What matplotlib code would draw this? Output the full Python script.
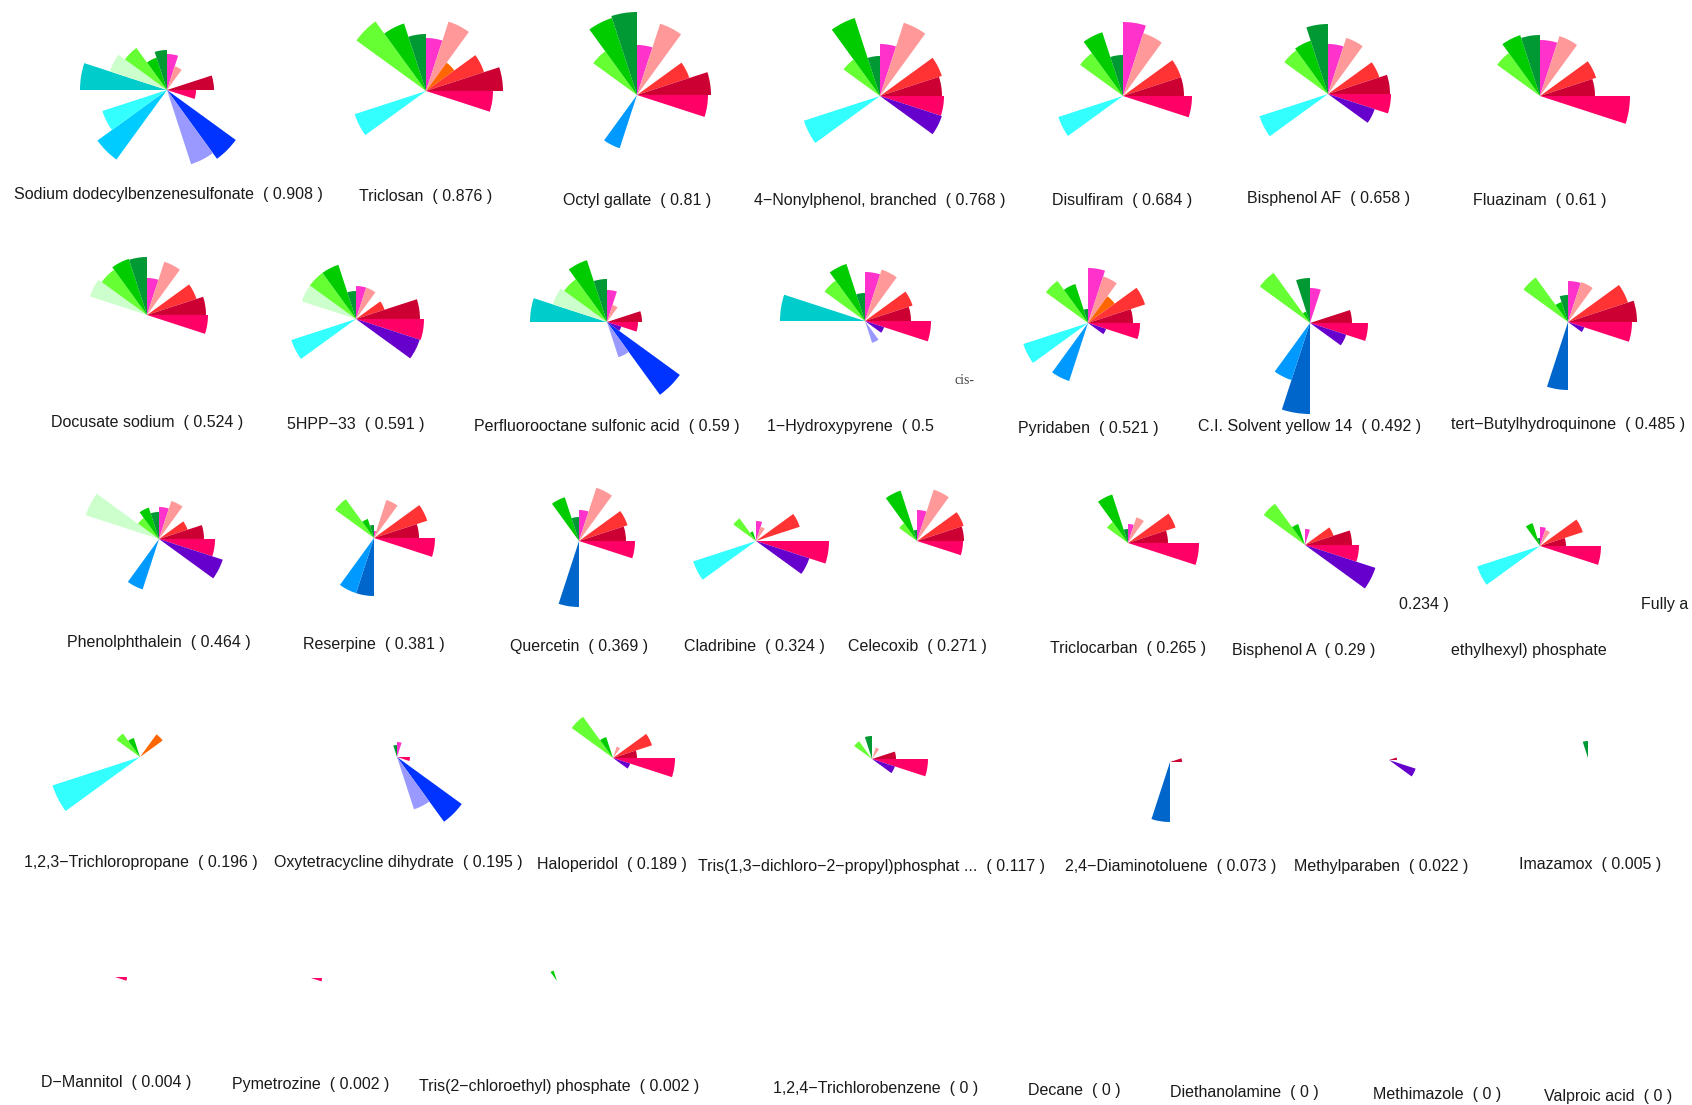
import numpy as np
import matplotlib.pyplot as plt

W, H = 1692, 1105
R = 100  # pixel radius of a slice with value 1

# 20 slices of 18 degrees, clockwise from 12 o'clock
slice_colors = [
    "#FF33CC", "#FF9999", "#FF6600", "#FF3333", "#CC0033",
    "#FF0066", "#6600CC", "#0033FF", "#9999FF", "#3366FF",
    "#0066CC", "#0099FF", "#00CCFF", "#33FFFF", "#00FFCC",
    "#00CCCC", "#CCFFCC", "#66FF33", "#00CC00", "#009933",
]

labels = [
    "Sodium dodecylbenzenesulfonate  ( 0.908 )", "Triclosan  ( 0.876 )",
    "Octyl gallate  ( 0.81 )", "4−Nonylphenol, branched  ( 0.768 )",
    "Disulfiram  ( 0.684 )", "Bisphenol AF  ( 0.658 )", "Fluazinam  ( 0.61 )",
    "Docusate sodium  ( 0.524 )", "5HPP−33  ( 0.591 )",
    "Perfluorooctane sulfonic acid  ( 0.59 )", "1−Hydroxypyrene  ( 0.5",
    "Pyridaben  ( 0.521 )", "C.I. Solvent yellow 14  ( 0.492 )",
    "tert−Butylhydroquinone  ( 0.485 )",
    "Phenolphthalein  ( 0.464 )", "Reserpine  ( 0.381 )", "Quercetin  ( 0.369 )",
    "Cladribine  ( 0.324 )", "Celecoxib  ( 0.271 )", "Triclocarban  ( 0.265 )",
    "Bisphenol A  ( 0.29 )", "ethylhexyl) phosphate",
    "1,2,3−Trichloropropane  ( 0.196 )", "Oxytetracycline dihydrate  ( 0.195 )",
    "Haloperidol  ( 0.189 )", "Tris(1,3−dichloro−2−propyl)phosphat ...  ( 0.117 )",
    "2,4−Diaminotoluene  ( 0.073 )", "Methylparaben  ( 0.022 )", "Imazamox  ( 0.005 )",
    "D−Mannitol  ( 0.004 )", "Pymetrozine  ( 0.002 )",
    "Tris(2−chloroethyl) phosphate  ( 0.002 )", "1,2,4−Trichlorobenzene  ( 0 )",
    "Decane  ( 0 )", "Diethanolamine  ( 0 )", "Methimazole  ( 0 )", "Valproic acid  ( 0 )",
]

slice_values = [
    [0.36, 0.25, 0, 0, 0.47, 0.29, 0, 0.85, 0.78, 0, 0, 0, 0.86, 0.68, 0, 0.87, 0.60, 0.52, 0.34, 0.40],
    [0.53, 0.73, 0.35, 0.61, 0.77, 0.67, 0, 0, 0, 0, 0, 0, 0, 0.75, 0, 0, 0, 0.86, 0.71, 0.57],
    [0.50, 0.75, 0, 0.55, 0.74, 0.71, 0, 0, 0, 0, 0, 0.56, 0, 0, 0, 0, 0, 0.54, 0.81, 0.83],
    [0.52, 0.77, 0, 0.65, 0.62, 0.64, 0.65, 0, 0, 0, 0, 0, 0, 0.80, 0, 0, 0, 0.45, 0.82, 0.40],
    [0.74, 0.66, 0, 0.61, 0.61, 0.69, 0, 0, 0, 0, 0, 0, 0, 0.68, 0, 0, 0, 0.53, 0.67, 0.41],
    [0.50, 0.59, 0, 0.54, 0.62, 0.63, 0.49, 0, 0, 0, 0, 0, 0, 0.72, 0, 0, 0, 0.54, 0.56, 0.70],
    [0.56, 0.63, 0, 0.59, 0.55, 0.90, 0, 0, 0, 0, 0, 0, 0, 0, 0, 0, 0, 0.53, 0.64, 0.61],
    [0.37, 0.56, 0, 0.52, 0.59, 0.61, 0, 0, 0, 0, 0, 0, 0, 0, 0, 0, 0.60, 0.56, 0.59, 0.58],
    [0.33, 0.33, 0, 0.30, 0.64, 0.68, 0.67, 0, 0, 0, 0, 0, 0, 0.68, 0, 0, 0.57, 0.57, 0.57, 0.28],
    [0.32, 0.18, 0, 0, 0.35, 0.31, 0.15, 0.90, 0.37, 0, 0, 0, 0, 0, 0, 0.77, 0.57, 0.53, 0.65, 0.43],
    [0.49, 0.54, 0, 0.50, 0.46, 0.66, 0.20, 0, 0.23, 0, 0, 0, 0, 0, 0, 0.85, 0, 0.50, 0.60, 0.28],
    [0.55, 0.49, 0.33, 0.60, 0.45, 0.52, 0.19, 0, 0, 0, 0, 0.61, 0, 0.68, 0, 0, 0, 0.52, 0.41, 0.14],
    [0.35, 0, 0, 0, 0.42, 0.58, 0.38, 0, 0, 0, 0.91, 0.60, 0, 0, 0, 0, 0, 0.62, 0.12, 0.45],
    [0.41, 0.42, 0, 0.63, 0.69, 0.64, 0.17, 0, 0, 0, 0.68, 0, 0, 0, 0, 0, 0, 0.55, 0.21, 0.27],
    [0.32, 0.40, 0, 0.30, 0.45, 0.56, 0.67, 0, 0, 0, 0, 0.53, 0, 0, 0, 0, 0.77, 0.26, 0.33, 0.27],
    [0.07, 0.40, 0, 0.56, 0.45, 0.61, 0, 0, 0, 0, 0.58, 0.58, 0, 0, 0, 0, 0, 0.48, 0.20, 0.13],
    [0.31, 0.56, 0, 0.51, 0.47, 0.56, 0, 0, 0, 0, 0.66, 0, 0, 0, 0, 0, 0, 0, 0.46, 0.24],
    [0.20, 0.15, 0, 0.46, 0, 0.73, 0.56, 0, 0, 0, 0, 0, 0, 0.66, 0, 0, 0, 0.28, 0.10, 0],
    [0.31, 0.54, 0, 0.49, 0.47, 0.46, 0, 0, 0, 0, 0, 0, 0, 0, 0, 0, 0, 0.22, 0.53, 0.11],
    [0.19, 0.27, 0, 0.50, 0.40, 0.71, 0, 0, 0, 0, 0, 0, 0, 0, 0, 0, 0, 0.26, 0.51, 0.14],
    [0.16, 0, 0, 0.30, 0.47, 0.54, 0.74, 0, 0, 0, 0, 0, 0, 0, 0, 0, 0, 0.51, 0.22, 0],
    [0.19, 0.17, 0, 0.45, 0.26, 0.61, 0, 0, 0, 0, 0, 0, 0, 0.66, 0, 0, 0, 0, 0.24, 0.08],
    [0, 0, 0.28, 0, 0, 0, 0, 0, 0, 0, 0, 0, 0, 0.92, 0, 0, 0, 0.29, 0.20, 0],
    [0.15, 0, 0, 0, 0, 0.13, 0, 0.80, 0.55, 0, 0, 0, 0, 0, 0, 0, 0, 0, 0, 0.12],
    [0, 0.12, 0, 0.41, 0.24, 0.62, 0.18, 0, 0, 0, 0, 0, 0, 0, 0, 0, 0, 0.51, 0.22, 0],
    [0, 0.12, 0, 0, 0.24, 0.56, 0.24, 0, 0, 0, 0, 0, 0, 0, 0, 0, 0, 0.22, 0, 0.23],
    [0, 0, 0, 0, 0.12, 0, 0, 0, 0, 0, 0.60, 0, 0, 0, 0, 0, 0, 0, 0, 0],
    [0, 0, 0, 0, 0.08, 0, 0.28, 0, 0, 0, 0, 0, 0, 0, 0, 0, 0, 0, 0, 0],
    [0, 0, 0, 0, 0, 0, 0, 0, 0, 0, 0, 0, 0, 0, 0, 0, 0, 0, 0, 0.17],
    [0, 0, 0, 0, 0, 0.12, 0, 0, 0, 0, 0, 0, 0, 0, 0, 0, 0, 0, 0, 0],
    [0, 0, 0, 0, 0, 0.11, 0, 0, 0, 0, 0, 0, 0, 0, 0, 0, 0, 0, 0, 0],
    [0, 0, 0, 0, 0, 0, 0, 0, 0, 0, 0, 0, 0, 0, 0, 0, 0, 0, 0.11, 0],
    [0] * 20, [0] * 20, [0] * 20, [0] * 20, [0] * 20,
]

# glyph centres and label positions, in pixels from the top-left corner
glyph_x = [167, 426, 637, 880, 1123, 1328, 1540,
           147, 356, 607, 865, 1088, 1310, 1568,
           159, 374, 579, 756, 917, 1128, 1305, 1540,
           140, 397, 613, 872, 1170, 1389, 1588,
           115, 311, 557, 876, 1074, 1244, 1437, 1608]
glyph_y = [90, 91, 95, 96, 96, 94, 96,
           315, 319, 322, 321, 323, 323, 322,
           539, 538, 541, 541, 541, 543, 545, 546,
           757, 757, 758, 759, 762, 760, 758,
           977, 978, 981, 985, 986, 988, 990, 992]
label_x = [168, 426, 637, 880, 1122, 1329, 1540,
           147, 356, 607, 850, 1088, 1310, 1568,
           159, 374, 579, 754, 917, 1128, 1304, 1529,
           141, 398, 612, 871, 1171, 1381, 1590,
           116, 311, 559, 876, 1074, 1244, 1437, 1608]
label_y = [195, 197, 201, 200, 200, 199, 200,
           422, 424, 426, 426, 428, 427, 425,
           643, 644, 647, 647, 647, 649, 650, 651,
           863, 863, 864, 866, 867, 866, 865,
           1082, 1085, 1087, 1088, 1090, 1092, 1095, 1097]

# stray label pieces left over from neighbouring panels
extra_text = ["0.234 )", "Fully a"]
extra_x = [1424, 1665]
extra_y = [605, 605]

plt.rcParams["font.family"] = ["Liberation Sans", "DejaVu Sans"]

fig = plt.figure(figsize=(W / 100, H / 100), dpi=100)
fig.patch.set_facecolor("white")

theta = np.deg2rad(np.arange(20) * 18 + 9)
width = np.deg2rad(18)

for i in range(len(labels)):
    cx, cy = glyph_x[i], glyph_y[i]
    ax = fig.add_axes([(cx - R) / W, 1 - (cy + R) / H, 2 * R / W, 2 * R / H],
                      projection="polar")
    ax.set_theta_zero_location("N")
    ax.set_theta_direction(-1)
    ax.bar(theta, slice_values[i], width=width, color=slice_colors,
           linewidth=0, align="center")
    ax.set_ylim(0, 1)
    ax.axis("off")

    fig.text(label_x[i] / W, 1 - label_y[i] / H, labels[i], ha="center",
             va="center", fontsize=11.5, color="#1a1a1a")

for txt, x, y in zip(extra_text, extra_x, extra_y):
    fig.text(x / W, 1 - y / H, txt, ha="center", va="center",
             fontsize=11.5, color="#1a1a1a")

fig.text(964 / W, 1 - 380 / H, "cis-", ha="center", va="center",
         fontsize=10, color="#444444", family="Liberation Serif")

fig.savefig("out.png", dpi=100, facecolor="white")
